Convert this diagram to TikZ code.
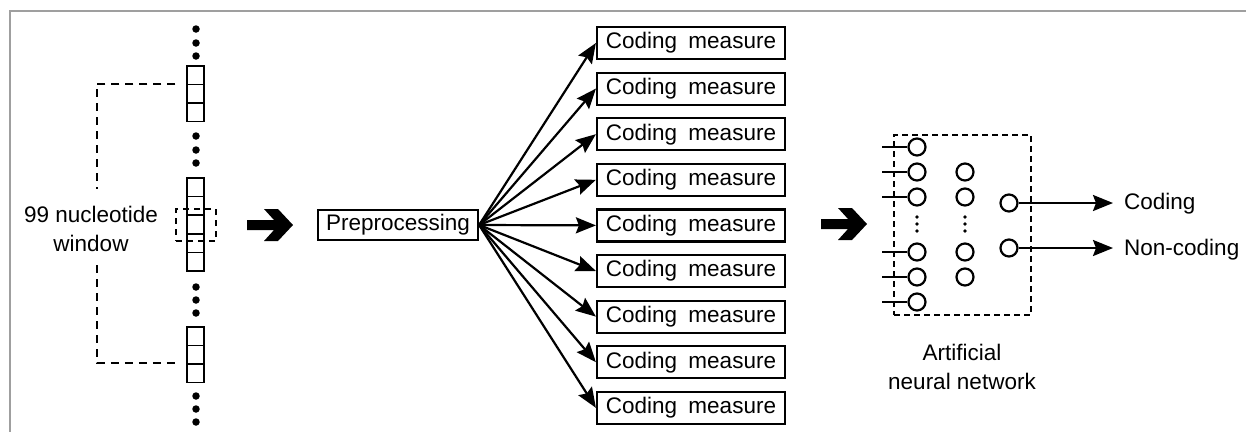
\documentclass[tikz,border=0pt]{standalone}
\usepackage{fontspec}
\setmainfont{Liberation Sans}
\usetikzlibrary{arrows.meta}
\begin{document}
\begin{tikzpicture}[x=1pt,y=-1pt,
  every node/.style={font=\fontsize{22.5}{29}\selectfont, inner sep=0pt},
  cell/.style={draw, line width=1.4pt, minimum width=17pt, minimum height=18.5pt},
  bdot/.style={fill, circle, minimum size=7.5pt},
  sdot/.style={fill, circle, minimum size=3.8pt},
  cmbox/.style={draw, line width=2.2pt, minimum width=188pt, minimum height=32pt},
  prebox/.style={draw, line width=2.2pt, minimum width=160pt, minimum height=30pt},
  neuron/.style={draw, circle, line width=2.2pt, minimum size=17pt},
  arr/.style={line width=2.2pt, -{Stealth[length=20pt,width=16pt,inset=3pt]}},
  brk/.style={line width=1.9pt, dash pattern=on 8pt off 6pt},
  nnbox/.style={draw, line width=1.9pt, dash pattern=on 6pt off 4pt},
  inl/.style={line width=2.2pt},
  bigarrow/.style={fill=black}
]
\useasboundingbox (0,0) rectangle (1246,432);
\draw[gray!75, line width=1.4pt] (1246,11) -- (10,11) -- (10,432);

% nucleotide column
\foreach \y [count=\i] in {29,43,56} \node[bdot] (da\i) at (196,\y) {};
\foreach \i in {1,2,3} \node[cell] (a\i) at (195.5,{66+18.4*(\i-0.5)}) {};
\foreach \y [count=\i] in {136,150,163} \node[bdot] (db\i) at (196,\y) {};
\foreach \i in {1,...,5} \node[cell] (b\i) at (195.5,{178+18.6*(\i-0.5)}) {};
\foreach \y [count=\i] in {287,300,313} \node[bdot] (dc\i) at (196,\y) {};
\foreach \i in {1,2,3} \node[cell] (c\i) at (195.5,{327+18.4*(\i-0.5)}) {};
\foreach \y [count=\i] in {396,409,422} \node[bdot] (dd\i) at (196,\y) {};

\node[draw, line width=1.9pt, dash pattern=on 6pt off 5pt, minimum width=40pt, minimum height=32pt] (win) at (196,225) {};

\node[align=center] (lbl) at (91,229) {99 nucleotide\\window};
\draw[brk] ([xshift=-11pt]a2.north west) -| (97,189);
\draw[brk] (97,265) |- ([xshift=-11pt]c3.north west);

% big arrow 1
\fill[bigarrow] (247,220) -- (274,220) -- (264,209) -- (278,209) -- (293,225) -- (278,241) -- (264,241) -- (274,230) -- (247,230) -- cycle;

% preprocessing
\node[prebox] (pre) at (398,225) {Preprocessing};
\foreach \i in {1,...,9} {
  \node[cmbox] (m\i) at (691,{43+45.6*(\i-1)}) {Coding\hspace{0.5em}measure};
  \draw[arr] (pre.east) -- (m\i.west);
}

% big arrow 2
\fill[bigarrow] (821,219) -- (848,219) -- (838,208) -- (852,208) -- (867,224) -- (852,240) -- (838,240) -- (848,229) -- (821,229) -- cycle;

% neural network
\node[nnbox, minimum width=137pt, minimum height=180pt] (nn) at (962.5,225) {};
\foreach \y [count=\i] in {147,172,197,252,277,302} {
  \node[neuron] (in\i) at (917,\y) {};
  \coordinate (s\i) at (882,\y);
  \draw[inl] (s\i) -- (in\i);
}
\foreach \y [count=\i] in {172,197,252,277} \node[neuron] (h\i) at (965,\y) {};
\foreach \y [count=\i] in {217,224,231} {
  \node[sdot] (ei\i) at (917,\y) {};
  \node[sdot] (eh\i) at (965,\y) {};
}
\node[neuron] (o1) at (1009,203) {};
\node[neuron] (o2) at (1009,248) {};
\node[anchor=base west] (lc) at (1124,209) {Coding};
\node[anchor=base west] (ln) at (1124,255) {Non-coding};
\draw[arr] (o1) -- (1113,203);
\draw[arr] (o2) -- (1113,248);
\node[align=center] (ann) at (962,367) {Artificial\\neural network};
\end{tikzpicture}
\end{document}
